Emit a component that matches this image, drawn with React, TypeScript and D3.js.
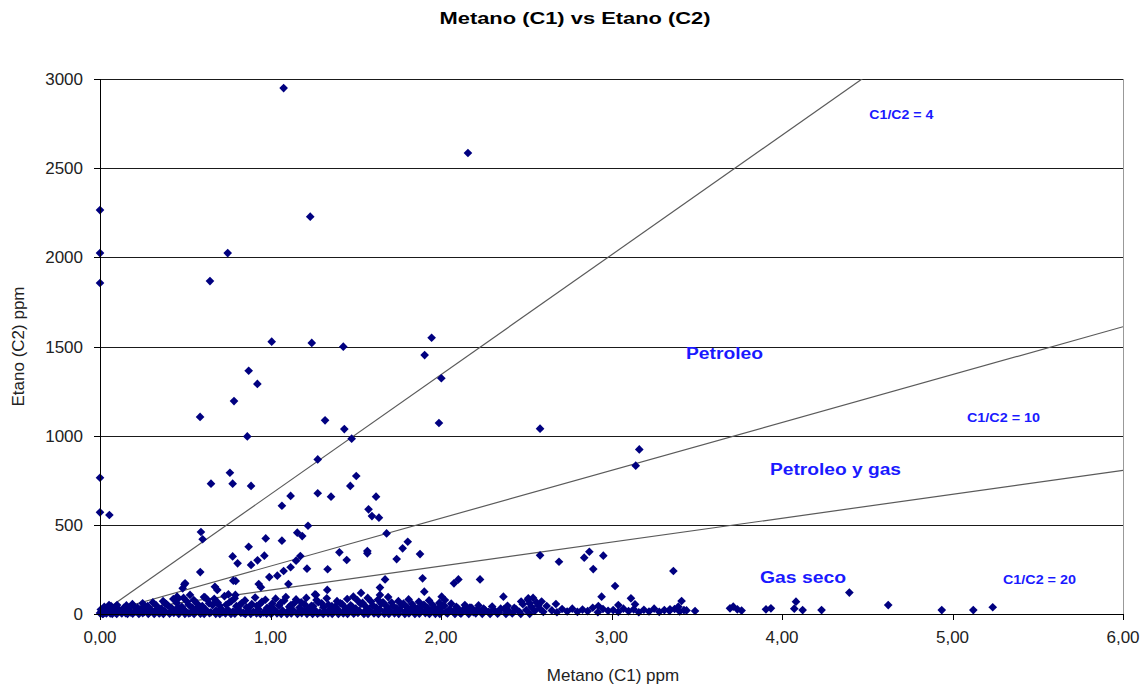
import * as d3 from "d3";

// C1 (metano) vs C2 (etano) readings as [c1, c2]
const outliers: [number, number][] = [
  [1.077, 2949], [2.158, 2585], [0.0, 2265], [1.233, 2228], [0.0, 2024], [0.749, 2024],
  [0.0, 1856], [0.645, 1867], [1.945, 1549], [1.007, 1527], [1.242, 1520], [1.427, 1499],
  [1.904, 1452], [0.872, 1364], [2.002, 1322], [0.923, 1290], [0.786, 1194], [0.587, 1105],
  [1.32, 1086], [1.988, 1071], [2.581, 1039], [1.433, 1037],
];

const midRange: [number, number][] = [
  [0.864, 996], [1.476, 983], [3.163, 923], [1.277, 867], [3.142, 832], [0.762, 792],
  [1.503, 774], [0.0, 764], [0.651, 731], [0.778, 731], [0.886, 718], [1.468, 718],
  [1.277, 677], [1.118, 662], [1.355, 658], [1.619, 658], [1.067, 607], [1.575, 587],
  [0.0, 570], [0.055, 555], [1.595, 549], [1.636, 540], [1.22, 495], [0.592, 460],
  [1.157, 456], [1.681, 452], [1.186, 437], [0.972, 424], [0.602, 419], [1.067, 411],
  [1.805, 405], [0.872, 377], [1.775, 368], [1.568, 353], [1.404, 346], [2.87, 349],
  [1.568, 340], [1.877, 336], [0.964, 327], [2.581, 329], [2.952, 327], [0.778, 323],
  [1.175, 325], [2.84, 316], [1.74, 308], [0.924, 301], [1.447, 303], [1.15, 299],
  [2.692, 293], [0.807, 284], [0.886, 275], [1.118, 262], [1.214, 254], [2.893, 252],
  [1.335, 251], [1.077, 241], [3.363, 241], [0.588, 235], [1.04, 215], [0.993, 207],
  [1.892, 200], [2.102, 194], [2.229, 194], [1.672, 194],
];

const lowScatter: [number, number][] = [
  [0.782, 187], [0.796, 185], [0.499, 172], [2.076, 172], [0.495, 166], [1.105, 168],
  [0.931, 168], [3.021, 157], [0.674, 153], [0.944, 150], [1.642, 148], [0.485, 144],
  [1.333, 135], [0.688, 135], [1.902, 125], [4.395, 120], [1.531, 118], [1.261, 110],
  [0.753, 110], [1.267, 107], [0.794, 107], [0.528, 107], [1.642, 107], [0.452, 97],
  [1.486, 97], [2.366, 97], [2.004, 97], [2.942, 97], [0.616, 93], [3.114, 88],
  [2.512, 88], [0.453, 82], [2.023, 78], [3.411, 73], [4.082, 69], [0.381, 60],
  [2.674, 56], [0.053, 50], [3.138, 54], [4.623, 50], [2.923, 45], [3.04, 50],
  [3.714, 41], [3.392, 41], [5.236, 38], [3.695, 32], [3.935, 32], [4.072, 30],
  [3.343, 26], [3.738, 26], [3.906, 26], [3.763, 19], [3.49, 17], [3.425, 22],
  [4.121, 22], [4.232, 22], [4.937, 22], [5.122, 22],
];

const baseBand: [number, number][] = [
  [0.0, 5], [0.01, 14], [0.02, 2], [0.03, 22], [0.04, 9], [0.05, 30], [0.06, 4], [0.08, 18],
  [0.09, 7], [0.11, 26], [0.12, 11], [0.14, 35], [0.15, 5], [0.17, 20], [0.18, 9], [0.2, 42],
  [0.21, 15], [0.23, 6], [0.24, 28], [0.26, 12], [0.27, 38], [0.29, 8], [0.3, 24], [0.32, 14],
  [0.33, 48], [0.35, 6], [0.36, 30], [0.38, 16], [0.39, 55], [0.41, 9], [0.42, 33], [0.44, 20],
  [0.45, 62], [0.47, 11], [0.48, 40], [0.5, 18], [0.51, 70], [0.53, 7], [0.54, 36], [0.56, 22],
  [0.57, 58], [0.59, 12], [0.6, 45], [0.62, 25], [0.63, 80], [0.65, 9], [0.66, 50], [0.68, 19],
  [0.69, 65], [0.71, 30], [0.72, 10], [0.74, 52], [0.75, 24], [0.77, 72], [0.78, 14], [0.8, 44],
  [0.81, 28], [0.83, 60], [0.84, 8], [0.86, 38], [0.87, 20], [0.89, 55], [0.9, 12], [0.92, 46],
  [0.93, 26], [0.95, 68], [0.96, 9], [0.98, 34], [0.99, 18], [1.01, 58], [1.02, 28], [1.04, 10],
  [1.05, 48], [1.07, 20], [1.08, 75], [1.1, 14], [1.11, 40], [1.13, 24], [1.14, 62], [1.16, 8],
  [1.17, 36], [1.19, 18], [1.2, 54], [1.22, 30], [1.23, 12], [1.25, 44], [1.26, 22], [1.28, 66],
  [1.29, 9], [1.31, 38], [1.32, 16], [1.34, 52], [1.35, 26], [1.37, 11], [1.38, 42], [1.4, 20],
  [1.41, 60], [1.43, 14], [1.44, 34], [1.46, 24], [1.47, 48], [1.49, 8], [1.5, 30], [1.52, 18],
  [1.53, 56], [1.55, 12], [1.56, 40], [1.58, 22], [1.59, 70], [1.61, 9], [1.62, 36], [1.64, 26],
  [1.65, 58], [1.67, 15], [1.68, 44], [1.7, 20], [1.71, 64], [1.73, 10], [1.74, 32], [1.76, 24],
  [1.77, 50], [1.79, 14], [1.8, 38], [1.82, 19], [1.83, 56], [1.85, 8], [1.86, 30], [1.88, 22],
  [1.89, 46], [1.91, 12], [1.92, 34], [1.94, 18], [1.95, 52], [1.97, 10], [1.98, 28], [2.0, 16],
  [2.01, 44], [2.03, 9], [2.05, 26], [2.07, 14], [2.09, 40], [2.11, 8], [2.13, 24], [2.15, 16],
  [2.17, 36], [2.19, 10], [2.21, 22], [2.23, 14], [2.25, 30],
];

const upperBand: [number, number][] = [
  [0.005, 25], [0.025, 40], [0.045, 18], [0.065, 45], [0.085, 32], [0.1, 50], [0.13, 20],
  [0.155, 48], [0.165, 30], [0.19, 55], [0.22, 36], [0.25, 60], [0.28, 44], [0.31, 65],
  [0.34, 30], [0.37, 72], [0.4, 46], [0.43, 84], [0.46, 38], [0.49, 90], [0.52, 52],
  [0.55, 78], [0.58, 40], [0.61, 95], [0.64, 60], [0.67, 85], [0.7, 48], [0.73, 100],
  [0.76, 66], [0.79, 88], [0.82, 50], [0.85, 76], [0.88, 42], [0.91, 92], [0.94, 58],
  [0.97, 80], [1.0, 40], [1.03, 86], [1.06, 62], [1.09, 95], [1.12, 50], [1.15, 82],
  [1.18, 66], [1.21, 90], [1.24, 46], [1.27, 78], [1.3, 60], [1.33, 88], [1.36, 44],
  [1.39, 72], [1.42, 56], [1.45, 84], [1.48, 40], [1.51, 76], [1.54, 62], [1.57, 90],
  [1.6, 48], [1.63, 80], [1.66, 66], [1.69, 95], [1.72, 45], [1.75, 72], [1.78, 58],
  [1.81, 82], [1.84, 40], [1.87, 68], [1.9, 52], [1.93, 76], [1.96, 38], [1.99, 62],
  [2.02, 46], [2.06, 58], [2.1, 30], [2.14, 50], [2.18, 34], [2.22, 48], [2.26, 20],
  [2.3, 42], [2.35, 30], [2.39, 46], [2.44, 26], [2.47, 70], [2.52, 60], [2.54, 90],
  [2.57, 48], [2.59, 70],
];

const floorBand: [number, number][] = [
  [0.015, 0], [0.037, 3], [0.072, 1], [0.098, 0], [0.128, 4], [0.161, 0], [0.192, 2],
  [0.228, 0], [0.251, 5], [0.283, 1], [0.318, 0], [0.347, 3], [0.372, 0], [0.408, 2],
  [0.433, 6], [0.462, 0], [0.498, 1], [0.521, 4], [0.552, 0], [0.589, 2], [0.611, 0],
  [0.642, 5], [0.679, 1], [0.703, 0], [0.736, 3], [0.768, 0], [0.791, 2], [0.826, 6],
  [0.852, 0], [0.884, 1], [0.918, 3], [0.941, 0], [0.977, 2], [1.004, 0], [1.038, 4],
  [1.063, 1], [1.097, 0], [1.122, 3], [1.158, 0], [1.183, 5], [1.214, 1], [1.247, 0],
  [1.276, 2], [1.309, 0], [1.338, 4], [1.362, 1], [1.398, 0], [1.427, 3], [1.452, 0],
  [1.488, 2], [1.513, 6], [1.548, 0], [1.572, 1], [1.607, 3], [1.633, 0], [1.668, 2],
  [1.694, 0], [1.727, 4], [1.752, 1], [1.788, 0], [1.812, 3], [1.847, 0], [1.873, 2],
  [1.908, 5], [1.932, 0], [1.967, 1], [1.993, 0], [2.038, 3], [2.082, 0], [2.117, 2],
  [2.163, 0], [2.204, 4], [2.242, 1], [2.288, 0], [2.332, 2], [2.381, 0], [2.418, 3],
  [2.468, 0], [2.52, 1],
];

const tail: [number, number][] = [
  [2.28, 12], [2.31, 24], [2.34, 10], [2.37, 28], [2.4, 15], [2.43, 35], [2.46, 12], [2.48, 55],
  [2.5, 22], [2.51, 80], [2.53, 40], [2.55, 18], [2.56, 65], [2.58, 30], [2.6, 12], [2.62, 45],
  [2.65, 20], [2.68, 10], [2.71, 28], [2.74, 14], [2.77, 30], [2.8, 12], [2.83, 25], [2.86, 16],
  [2.89, 35], [2.92, 10], [2.95, 28], [2.98, 18], [3.01, 22], [3.04, 12], [3.07, 30], [3.1, 16],
  [3.13, 26], [3.16, 10], [3.19, 24], [3.22, 14], [3.25, 30], [3.28, 12], [3.31, 22], [3.34, 18],
  [3.37, 28], [3.4, 14], [3.44, 20],
];

const xTicks = [0, 1, 2, 3, 4, 5, 6];
const yTicks = [0, 500, 1000, 1500, 2000, 2500, 3000];

// ratio guide lines C1/C2, with the unit factor between the two axes
const ratios = [4, 10, 20];
const unitFactor = 2685;

const zones = [
  { text: "C1/C2 = 4", c1: 4.7, c2: 2798, big: false, w: 64 },
  { text: "Petroleo", c1: 3.663, c2: 1463, big: true, w: 77 },
  { text: "C1/C2 = 10", c1: 5.299, c2: 1099, big: false, w: 73 },
  { text: "Petroleo y gas", c1: 4.314, c2: 813, big: true, w: 131 },
  { text: "Gas seco", c1: 4.123, c2: 207, big: true, w: 86 },
  { text: "C1/C2 = 20", c1: 5.51, c2: 191, big: false, w: 73 },
];

export default function App() {
  const width = 1148;
  const height = 688;
  const left = 100, right = 1123, top = 79, bottom = 614;

  const x = d3.scaleLinear().domain([0, 6]).range([left, right]);
  const y = d3.scaleLinear().domain([0, 3000]).range([bottom, top]);

  const points = [...floorBand, ...baseBand, ...upperBand, ...tail, ...lowScatter, ...midRange, ...outliers];
  const diamond = d3.symbol().type(d3.symbolDiamond2 ?? d3.symbolDiamond).size(48)();
  const fmtX = (v: number) => d3.format(".2f")(v).replace(".", ",");
  const font = "'Liberation Sans', Arial, sans-serif";

  return (
    <svg width={width} height={height} style={{ position: "absolute", left: 0, top: 0, background: "#fff" }}>
      <defs>
        <clipPath id="plot">
          <rect x={left} y={top} width={right - left} height={bottom - top} />
        </clipPath>
      </defs>

      <text x={575} y={24} textAnchor="middle" fontFamily={font} fontWeight="bold" fontSize={17}
        textLength={271} lengthAdjust="spacingAndGlyphs">
        Metano (C1) vs Etano (C2)
      </text>

      {yTicks.filter(t => t > 0).map(t => (
        <line key={t} x1={left} x2={right} y1={Math.round(y(t)) + 0.5} y2={Math.round(y(t)) + 0.5}
          stroke="#1a1a1a" strokeWidth={1} />
      ))}

      <g clipPath="url(#plot)">
        {ratios.map(r => (
          <line key={r} x1={x(0)} y1={y(0)} x2={x(6)} y2={y(6 * unitFactor / r)}
            stroke="#5a5a5a" strokeWidth={1.2} />
        ))}
      </g>

      <g fill="#000080">
        {points.map(([c1, c2], i) => (
          <path key={i} d={diamond} transform={`translate(${x(c1)},${y(c2)})`} />
        ))}
      </g>

      {/* axes */}
      <line x1={left + 0.5} x2={left + 0.5} y1={top} y2={bottom} stroke="#000" />
      <line x1={left} x2={right} y1={bottom + 0.5} y2={bottom + 0.5} stroke="#000" />
      <line x1={right + 0.5} x2={right + 0.5} y1={top} y2={bottom} stroke="#999" />
      {yTicks.map(t => (
        <g key={t}>
          <line x1={left - 6} x2={left} y1={Math.round(y(t)) + 0.5} y2={Math.round(y(t)) + 0.5} stroke="#000" />
          <text x={left - 17} y={y(t) + 6} textAnchor="end" fontFamily={font} fontSize={17} fill="#222">
            {t}
          </text>
        </g>
      ))}
      {xTicks.map(t => (
        <g key={t}>
          <line x1={Math.round(x(t)) + 0.5} x2={Math.round(x(t)) + 0.5} y1={bottom} y2={bottom + 6} stroke="#000" />
          <text x={x(t)} y={bottom + 29} textAnchor="middle" fontFamily={font} fontSize={17} fill="#222">
            {fmtX(t)}
          </text>
        </g>
      ))}

      <text x={613} y={681} textAnchor="middle" fontFamily={font} fontSize={17} fill="#222">
        Metano (C1) ppm
      </text>
      <text transform={`translate(24,${(top + bottom) / 2}) rotate(-90)`} textAnchor="middle"
        fontFamily={font} fontSize={17} fill="#222">
        Etano (C2) ppm
      </text>

      {zones.map(z => (
        <text key={z.text} x={x(z.c1)} y={y(z.c2) + (z.big ? 6 : 4)} textAnchor="middle"
          fontFamily={font} fontWeight="bold" fontSize={z.big ? 16 : 12} fill="#1a1aff"
          textLength={z.w} lengthAdjust="spacingAndGlyphs">
          {z.text}
        </text>
      ))}
    </svg>
  );
}
